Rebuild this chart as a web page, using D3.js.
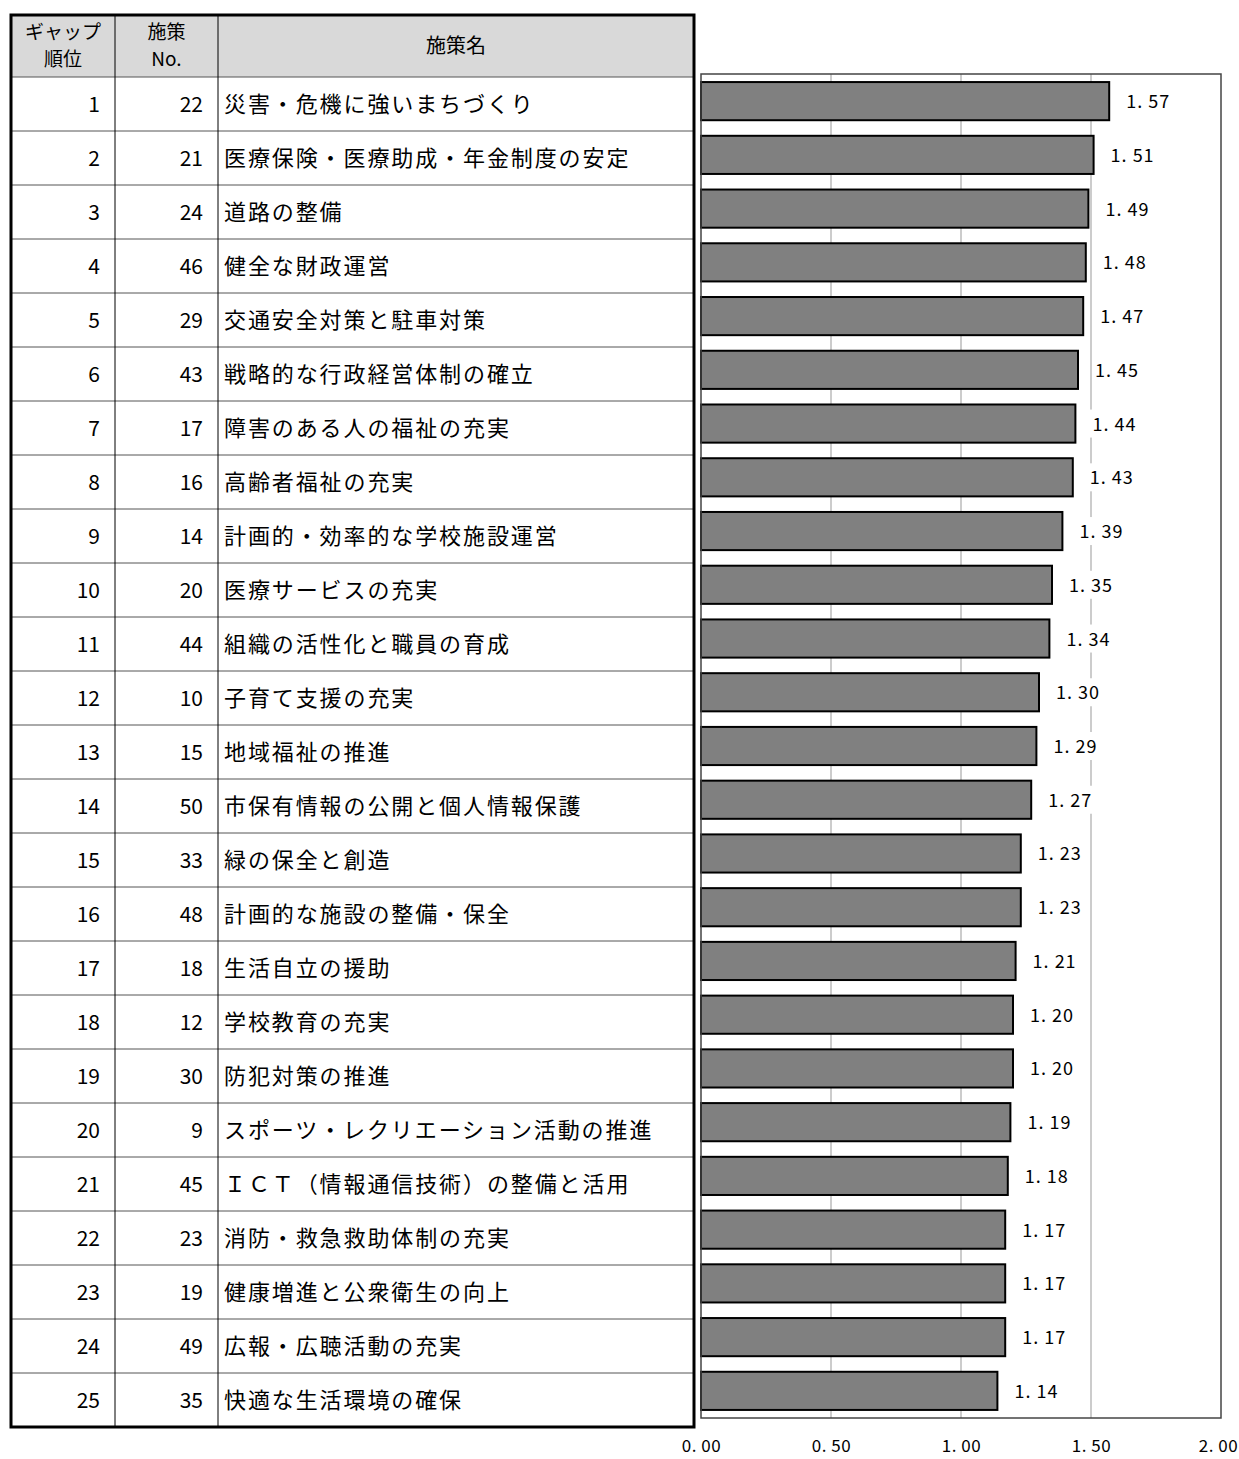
<!DOCTYPE html>
<html>
<head>
<meta charset="utf-8">
<script src="https://cdn.jsdelivr.net/npm/d3@7"></script>
<style>
  body { margin: 0; background: #fff; }
  text { font-family: "Noto Sans CJK JP", sans-serif; }
</style>
</head>
<body>
<div id="chart"></div>
<script>
"use strict";

var ranks = d3.range(1, 26);
var measureNos = [22, 21, 24, 46, 29, 43, 17, 16, 14, 20, 44, 10, 15, 50, 33, 48, 18, 12, 30, 9, 45, 23, 19, 49, 35];
var measureNames = [
  "災害・危機に強いまちづくり",
  "医療保険・医療助成・年金制度の安定",
  "道路の整備",
  "健全な財政運営",
  "交通安全対策と駐車対策",
  "戦略的な行政経営体制の確立",
  "障害のある人の福祉の充実",
  "高齢者福祉の充実",
  "計画的・効率的な学校施設運営",
  "医療サービスの充実",
  "組織の活性化と職員の育成",
  "子育て支援の充実",
  "地域福祉の推進",
  "市保有情報の公開と個人情報保護",
  "緑の保全と創造",
  "計画的な施設の整備・保全",
  "生活自立の援助",
  "学校教育の充実",
  "防犯対策の推進",
  "スポーツ・レクリエーション活動の推進",
  "ＩＣＴ（情報通信技術）の整備と活用",
  "消防・救急救助体制の充実",
  "健康増進と公衆衛生の向上",
  "広報・広聴活動の充実",
  "快適な生活環境の確保"
];
var gapValues = [1.57, 1.51, 1.49, 1.48, 1.47, 1.45, 1.44, 1.43, 1.39, 1.35, 1.34, 1.30, 1.29, 1.27, 1.23, 1.23, 1.21, 1.20, 1.20, 1.19, 1.18, 1.17, 1.17, 1.17, 1.14];
var xTicks = [0, 0.5, 1.0, 1.5, 2.0];

var W = 1239, H = 1459;
var svg = d3.select("#chart").append("svg")
  .attr("width", W)
  .attr("height", H);

// ---- table ----
var tLeft = 11, tRight = 694, tTop = 15, headBottom = 77, rowH = 54;
var col1 = 115, col2 = 218;
var tBottom = headBottom + rowH * ranks.length;

var table = svg.append("g");
table.append("rect")
  .attr("x", tLeft).attr("y", tTop)
  .attr("width", tRight - tLeft).attr("height", headBottom - tTop)
  .attr("fill", "#d9d9d9");

// row lines
table.selectAll("line.row")
  .data(ranks)
  .enter().append("line")
  .attr("x1", tLeft).attr("x2", tRight)
  .attr("y1", function(d){ return headBottom + rowH * d; })
  .attr("y2", function(d){ return headBottom + rowH * d; })
  .attr("stroke", "#555").attr("stroke-width", 1);
table.append("line")
  .attr("x1", tLeft).attr("x2", tRight)
  .attr("y1", headBottom).attr("y2", headBottom)
  .attr("stroke", "#555").attr("stroke-width", 1);

[col1, col2].forEach(function(cx){
  table.append("line")
    .attr("x1", cx).attr("x2", cx)
    .attr("y1", tTop).attr("y2", tBottom)
    .attr("stroke", "#000").attr("stroke-width", 1);
});

table.append("rect")
  .attr("x", tLeft).attr("y", tTop)
  .attr("width", tRight - tLeft).attr("height", tBottom - tTop)
  .attr("fill", "none").attr("stroke", "#000").attr("stroke-width", 3);

// header text
var head = table.append("g").attr("font-size", 19).attr("fill", "#000").attr("text-anchor", "middle");
head.append("text").attr("x", (tLeft + col1) / 2).attr("y", 39).text("ギャップ");
head.append("text").attr("x", (tLeft + col1) / 2).attr("y", 66).text("順位");
head.append("text").attr("x", (col1 + col2) / 2).attr("y", 39).text("施策");
head.append("text").attr("x", (col1 + col2) / 2).attr("y", 66).text("No.");
head.append("text").attr("x", (col2 + tRight) / 2).attr("y", 53).attr("font-size", 20).text("施策名");

var rows = table.selectAll("g.row")
  .data(ranks)
  .enter().append("g")
  .attr("transform", function(d, i){ return "translate(0," + (headBottom + rowH * i + rowH / 2 + 8) + ")"; })
  .attr("font-size", 21);

rows.append("text")
  .attr("x", col1 - 15).attr("text-anchor", "end")
  .text(function(d){ return d; });
rows.append("text")
  .attr("x", col2 - 15).attr("text-anchor", "end")
  .text(function(d, i){ return measureNos[i]; });
rows.append("text")
  .attr("x", col2 + 6)
  .attr("font-size", 22)
  .attr("letter-spacing", 1.9)
  .text(function(d, i){ return measureNames[i]; });

// ---- bar chart ----
var pLeft = 701, pRight = 1221, pTop = 74, pBottom = 1418;

var x = d3.scaleLinear().domain([0, 2]).range([pLeft, pRight]);
var y = d3.scaleBand().domain(ranks).range([pTop, pBottom]).paddingInner(0.29).paddingOuter(0.15);

var chart = svg.append("g");

chart.selectAll("line.grid")
  .data(xTicks.slice(1, -1))
  .enter().append("line")
  .attr("x1", function(d){ return x(d); }).attr("x2", function(d){ return x(d); })
  .attr("y1", pTop).attr("y2", pBottom)
  .attr("stroke", "#999").attr("stroke-width", 1);

chart.selectAll("rect.bar")
  .data(gapValues)
  .enter().append("rect")
  .attr("x", x(0))
  .attr("y", function(d, i){ return y(ranks[i]); })
  .attr("width", function(d){ return x(d) - x(0); })
  .attr("height", y.bandwidth())
  .attr("fill", "#808080")
  .attr("stroke", "#000").attr("stroke-width", 2);

var labels = chart.selectAll("g.lab")
  .data(gapValues)
  .enter().append("g")
  .attr("transform", function(d, i){ return "translate(" + (x(d) + 17) + "," + (y(ranks[i]) + y.bandwidth() / 2) + ")"; });
labels.append("rect")
  .attr("x", -3).attr("y", -14).attr("width", 48).attr("height", 28)
  .attr("fill", "#fff");
labels.append("text")
  .attr("y", 7)
  .attr("font-size", 18)
  .attr("letter-spacing", 1)
  .text(function(d){ return d.toFixed(2).replace(".", ". "); });

chart.append("rect")
  .attr("x", pLeft).attr("y", pTop)
  .attr("width", pRight - pLeft).attr("height", pBottom - pTop)
  .attr("fill", "none").attr("stroke", "#444").attr("stroke-width", 1.5);

var axis = d3.axisBottom(x)
  .tickValues(xTicks)
  .tickSize(0)
  .tickPadding(22)
  .tickFormat(function(d){ return d.toFixed(2).replace(".", ". "); });
var ax = chart.append("g")
  .attr("transform", "translate(0," + pBottom + ")")
  .call(axis);
ax.select(".domain").remove();
ax.selectAll("text")
  .attr("font-family", "Noto Sans CJK JP")
  .attr("font-size", 17)
  .attr("letter-spacing", 0.5)
  .attr("fill", "#000");
ax.selectAll(".tick").filter(function(d){ return d === 2; }).select("text")
  .attr("dx", -3);
</script>
</body>
</html>
